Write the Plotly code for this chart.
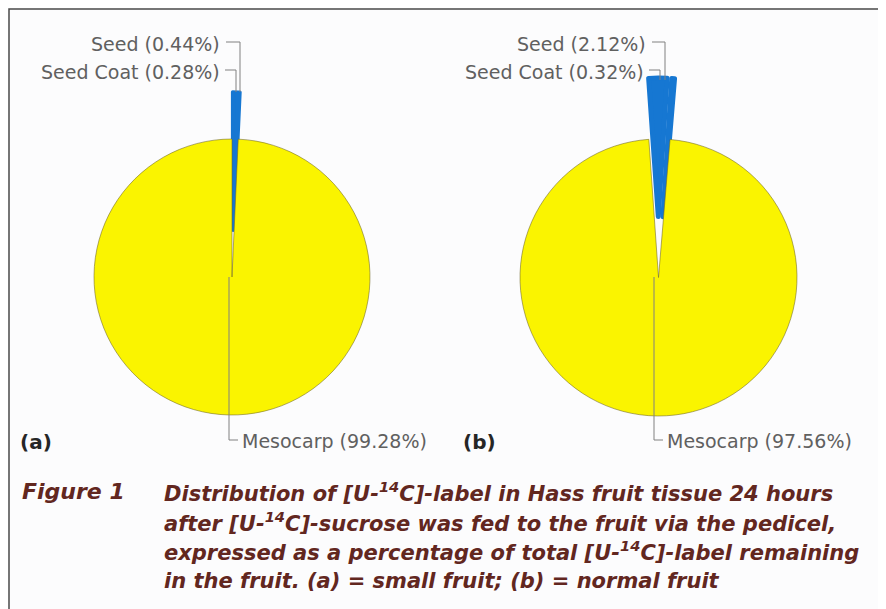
import plotly.graph_objects as go

# the page body adds an 8px margin, so the figure is drawn 8px in from the window corner
OFF = 8
W, H = 886 - OFF, 609 - OFF

# data
tissues = ["Seed", "Seed Coat", "Mesocarp"]
small_fruit = [0.44, 0.28, 99.28]
normal_fruit = [2.12, 0.32, 97.56]
panel_tags = ["(a)", "(b)"]

caption_head = "Figure 1"
caption_lines = [
    "Distribution of [U-<sup>14</sup>C]-label in Hass fruit tissue 24 hours",
    "after [U-<sup>14</sup>C]-sucrose was fed to the fruit via the pedicel,",
    "expressed as a percentage of total [U-<sup>14</sup>C]-label remaining",
    "in the fruit. (a) = small fruit; (b) = normal fruit",
]

YELLOW = "#FAF400"
BLUE = "#1677D2"
OUTLINE = "rgba(110,100,40,0.55)"
LABEL_GREY = "#606060"
CAPTION = "#62271f"


def px(x):
    return (x - OFF) / W


def py(y):
    return 1 - (y - OFF) / H


def fmt(name, v):
    return f"{name} ({v:.2f}%)"


fig = go.Figure()

# pies: (values, center x, center y, radius, pull, rotation, blue edge width) in window pixels
pies = [
    (small_fruit, 232, 277, 138, 0.34, 0, 3.5),
    (normal_fruit, 658.5, 277.5, 138.5, 0.44, -4, 5),
]
for vals, cx, cy, r, pull, rot, bw in pies:
    half = r * (1 + pull)
    fig.add_trace(go.Pie(
        labels=tissues,
        values=vals,
        sort=False,
        direction="clockwise",
        rotation=rot,
        pull=[pull, pull, 0],
        marker=dict(colors=[BLUE, BLUE, YELLOW],
                    line=dict(color=[BLUE, BLUE, OUTLINE], width=[bw, bw, 1])),
        textinfo="none",
        hoverinfo="skip",
        showlegend=False,
        domain=dict(x=[px(cx - half), px(cx + half)],
                    y=[py(cy + half), py(cy - half)]),
    ))

annotations = []
shapes = []
line_style = dict(color="#808080", width=1)
label_font = dict(family="DejaVu Sans", size=19, color=LABEL_GREY)

# slice labels + leader lines
label_layout = [
    # (values, seed text right x, coat text right x, seed leader x, coat leader x, wedge top y,
    #  mesocarp line x, center y, mesocarp text x, tag x)
    (small_fruit, 222, 222, 240, 236, 92, 229, 277, 240, 18),
    (normal_fruit, 648, 646, 665, 660, 80, 654, 277, 665, 461),
]
for i, (vals, sx, cxr, lx1, lx2, top, mx, cy, mtx, tagx) in enumerate(label_layout):
    annotations.append(dict(x=px(sx), y=py(44), text=fmt(tissues[0], vals[0]),
                            xanchor="right", yanchor="middle", showarrow=False,
                            font=label_font))
    annotations.append(dict(x=px(cxr), y=py(72), text=fmt(tissues[1], vals[1]),
                            xanchor="right", yanchor="middle", showarrow=False,
                            font=label_font))
    shapes.append(dict(type="path", xref="paper", yref="paper", line=line_style,
                       path=f"M {px(sx + 4)} {py(42)} L {px(lx1)} {py(42)} L {px(lx1)} {py(top)}"))
    shapes.append(dict(type="path", xref="paper", yref="paper", line=line_style,
                       path=f"M {px(cxr + 3)} {py(70)} L {px(lx2)} {py(70)} L {px(lx2)} {py(top)}"))
    # mesocarp
    shapes.append(dict(type="path", xref="paper", yref="paper", line=line_style,
                       path=f"M {px(mx)} {py(cy)} L {px(mx)} {py(440)} L {px(mx + 9)} {py(440)}"))
    annotations.append(dict(x=px(mtx), y=py(441), text=fmt(tissues[2], vals[2]),
                            xanchor="left", yanchor="middle", showarrow=False,
                            font=label_font))
    annotations.append(dict(x=px(tagx), y=py(442), text=f"<b>{panel_tags[i]}</b>",
                            xanchor="left", yanchor="middle", showarrow=False,
                            font=dict(family="DejaVu Sans", size=20, color="#262626")))

# caption
cap_font = dict(family="DejaVu Sans", size=21, color=CAPTION)
annotations.append(dict(x=px(20), y=py(492), text=f"<b><i>{caption_head}</i></b>",
                        xanchor="left", yanchor="middle", showarrow=False,
                        font=dict(family="DejaVu Sans", size=22, color=CAPTION)))
for k, line in enumerate(caption_lines):
    annotations.append(dict(x=px(162), y=py(492 + 29.5 * k), text=f"<b><i>{line}</i></b>",
                            xanchor="left", yanchor="middle", showarrow=False, font=cap_font))

# page frame
shapes.append(dict(type="rect", xref="paper", yref="paper",
                   x0=px(9), x1=1.05, y0=-0.05, y1=py(9),
                   line=dict(color="#4a4a4a", width=1.5)))

fig.update_layout(
    width=W, height=H,
    margin=dict(l=0, r=0, t=0, b=0),
    paper_bgcolor="#fcfcfd",
    plot_bgcolor="#fcfcfd",
    annotations=annotations,
    shapes=shapes,
)

fig.write_html("out.html")
